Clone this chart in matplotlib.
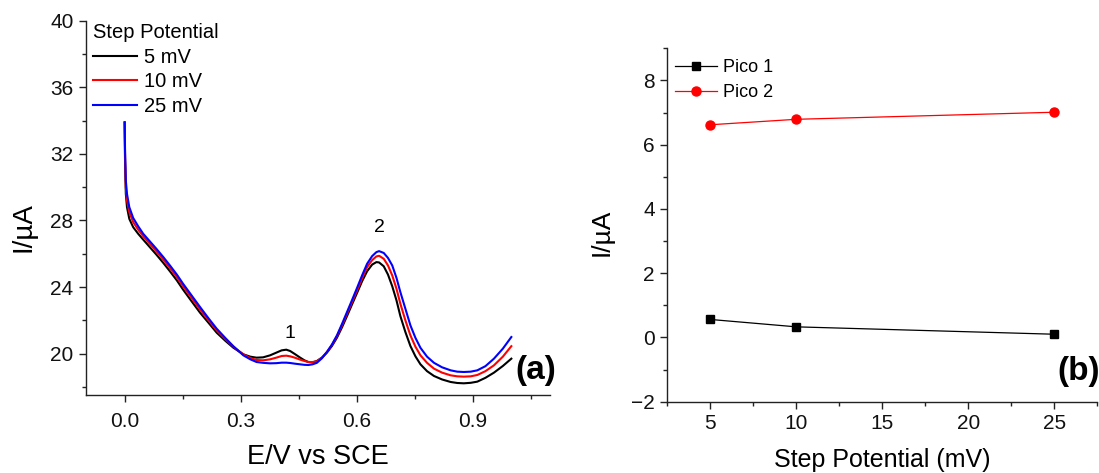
import matplotlib
matplotlib.use('Agg')
import matplotlib.pyplot as plt
from matplotlib.ticker import MultipleLocator

plt.rcParams['font.family'] = ['Liberation Sans', 'DejaVu Sans']

# ---- Panel (a): differential pulse voltammograms ----
potential_V = [0.000, 0.001, 0.003, 0.006, 0.012, 0.022, 0.035, 0.048, 0.065, 0.082,
               0.100, 0.117, 0.135, 0.151, 0.173, 0.195, 0.217, 0.238, 0.260, 0.281,
               0.307, 0.325, 0.341, 0.358, 0.376, 0.392, 0.406, 0.418, 0.428, 0.440,
               0.454, 0.465, 0.475, 0.486, 0.497, 0.510, 0.523, 0.536, 0.549, 0.562,
               0.575, 0.588, 0.601, 0.614, 0.627, 0.640, 0.651, 0.658, 0.670, 0.681,
               0.692, 0.703, 0.713, 0.726, 0.739, 0.752, 0.765, 0.782, 0.800, 0.821,
               0.843, 0.860, 0.877, 0.895, 0.912, 0.933, 0.955, 0.978, 1.000]

current_5mV = [33.87, 31.50, 29.60, 28.80, 28.10, 27.60, 27.20, 26.85, 26.40, 25.95,
               25.45, 24.95, 24.40, 23.85, 23.15, 22.46, 21.85, 21.26, 20.78, 20.36,
               19.96, 19.82, 19.76, 19.78, 19.90, 20.06, 20.20, 20.24, 20.16, 19.98,
               19.76, 19.60, 19.50, 19.48, 19.56, 19.76, 20.06, 20.46, 20.96, 21.58,
               22.26, 22.96, 23.65, 24.35, 24.95, 25.35, 25.50, 25.48, 25.25, 24.75,
               24.05, 23.20, 22.26, 21.30, 20.46, 19.84, 19.36, 18.95, 18.66, 18.45,
               18.30, 18.24, 18.22, 18.25, 18.32, 18.55, 18.86, 19.26, 19.70]

current_10mV = [33.90, 31.80, 30.00, 29.20, 28.50, 27.90, 27.45, 27.05, 26.60, 26.15,
                25.65, 25.15, 24.60, 24.05, 23.35, 22.65, 22.00, 21.40, 20.88, 20.42,
                19.96, 19.74, 19.62, 19.60, 19.66, 19.76, 19.86, 19.88, 19.84, 19.76,
                19.64, 19.56, 19.50, 19.50, 19.54, 19.76, 20.10, 20.52, 21.05, 21.70,
                22.40, 23.10, 23.80, 24.52, 25.20, 25.62, 25.84, 25.88, 25.70, 25.30,
                24.70, 23.90, 23.00, 22.00, 21.10, 20.42, 19.90, 19.45, 19.10, 18.86,
                18.70, 18.64, 18.62, 18.64, 18.72, 18.95, 19.30, 19.82, 20.45]

current_25mV = [33.90, 32.20, 30.40, 29.60, 28.80, 28.15, 27.65, 27.20, 26.75, 26.30,
                25.80, 25.30, 24.75, 24.20, 23.50, 22.80, 22.12, 21.50, 20.95, 20.45,
                19.90, 19.66, 19.50, 19.45, 19.42, 19.43, 19.46, 19.46, 19.44, 19.40,
                19.36, 19.33, 19.32, 19.36, 19.45, 19.72, 20.10, 20.55, 21.10, 21.78,
                22.50, 23.22, 23.95, 24.70, 25.40, 25.86, 26.10, 26.16, 26.05, 25.75,
                25.30, 24.55, 23.70, 22.70, 21.70, 20.95, 20.35, 19.82, 19.45, 19.18,
                19.00, 18.92, 18.90, 18.92, 19.00, 19.25, 19.70, 20.30, 21.00]

curve_labels = ['5 mV', '10 mV', '25 mV']
curve_colors = ['#000000', '#ff0000', '#0000ff']

# ---- Panel (b): peak current vs step potential ----
step_mV = [5, 10, 25]
pico1 = [0.56, 0.33, 0.10]
pico2 = [6.62, 6.79, 7.01]

W, H = 1099, 473
fig = plt.figure(figsize=(W / 100, H / 100), dpi=100)

# panel a axes (pixel geometry measured from reference)
axa = fig.add_axes([86 / W, 1 - 395.3 / H, (550 - 86) / W, (395.3 - 20.7) / H])
for ys, lab, col in zip([current_5mV, current_10mV, current_25mV], curve_labels, curve_colors):
    axa.plot(potential_V, ys, color=col, lw=1.5, label=lab)

axa.set_xlim(-0.1, 1.1)
axa.set_ylim(17.5, 40)
axa.xaxis.set_minor_locator(MultipleLocator(0.15))
axa.yaxis.set_minor_locator(MultipleLocator(2))
axa.set_xticks([0.0, 0.3, 0.6, 0.9])
axa.set_xticklabels(['0.0', '0.3', '0.6', '0.9'])
axa.set_yticks([20, 24, 28, 32, 36, 40])

axb = fig.add_axes([667.3 / W, 1 - 401.7 / H, (1097.3 - 667.3) / W, (401.7 - 48.3) / H])
axb.plot(step_mV, pico1, color='#000000', lw=0.9, marker='s', ms=6, label='Pico 1')
axb.plot(step_mV, pico2, color='#ff0000', lw=0.9, marker='o', ms=6.5, label='Pico 2')
axb.set_xlim(2.5, 27.5)
axb.set_ylim(-2, 9)
axb.set_xticks([5, 10, 15, 20, 25])
axb.xaxis.set_minor_locator(MultipleLocator(2.5))
axb.set_yticks([-2, 0, 2, 4, 6, 8])
axb.yaxis.set_minor_locator(MultipleLocator(1))

for ax in (axa, axb):
    for s in ('top', 'right'):
        ax.spines[s].set_visible(False)
    for s in ('left', 'bottom'):
        ax.spines[s].set_linewidth(1.0)
        ax.spines[s].set_color('#222222')
    ax.tick_params(which='major', direction='out', length=5, width=1.0,
                   labelsize=15, pad=4, colors='#222222', labelcolor='#111111')
    ax.tick_params(which='minor', direction='out', length=3, width=1.0, colors='#222222')
axa.tick_params(axis='x', which='major', pad=7)
axb.tick_params(axis='x', which='major', pad=4)

axa.set_xlabel('E/V vs SCE', fontsize=19.5, va='center')
axa.set_ylabel('I/µA', fontsize=20, va='center')
axa.xaxis.set_label_coords(0.5, (395.3 - 457) / 374.6)
axa.yaxis.set_label_coords((23.5 - 86) / 464, 0.45)

axb.set_xlabel('Step Potential (mV)', fontsize=18, va='center')
axb.set_ylabel('I/µA', fontsize=19, va='center')
axb.xaxis.set_label_coords(0.5, (401.7 - 460) / 353.4)
axb.yaxis.set_label_coords((601.5 - 667.3) / 430, 0.48)

axa.legend(title='Step Potential', loc='upper left', bbox_to_anchor=(0.015, 0.993),
           frameon=False, fontsize=14.5, title_fontsize=14.5, handlelength=2.2,
           handletextpad=0.33, labelspacing=0.27, borderpad=0, borderaxespad=0,
           alignment='left')

axb.legend(loc='upper left', bbox_to_anchor=(0.018, 0.969), frameon=False, fontsize=13,
           handlelength=2.3, handletextpad=0.35, labelspacing=0.45, borderpad=0,
           borderaxespad=0)

axa.text(0.428, 21.2, '1', fontsize=14, ha='center', va='center')
axa.text(0.660, 27.55, '2', fontsize=14, ha='center', va='center')

fig.text(535.8 / W, 1 - 370 / H, '(a)', fontsize=24, fontweight='bold', ha='center', va='center')
fig.text(1079 / W, 1 - 371.7 / H, '(b)', fontsize=24, fontweight='bold', ha='center', va='center')

fig.savefig('out.png', dpi=100)
